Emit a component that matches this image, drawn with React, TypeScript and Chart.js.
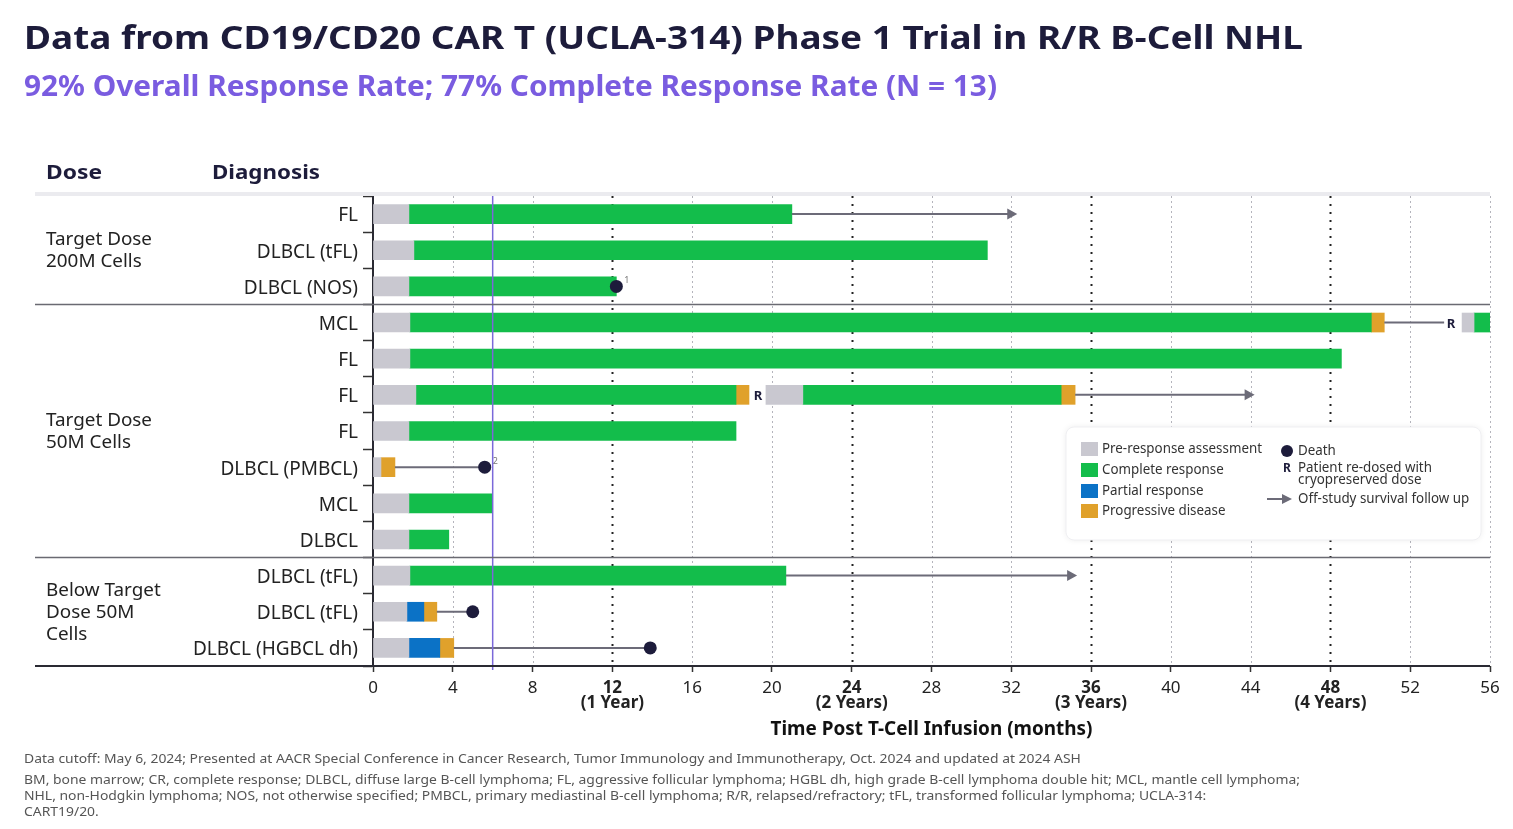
import React, { useEffect, useRef } from 'react';
import { Chart, registerables } from 'chart.js';

Chart.register(...registerables);

const FAMILY = '"Noto Sans", "DejaVu Sans", sans-serif';

// ---------- data ----------
const diagnoses = [
  'FL', 'DLBCL (tFL)', 'DLBCL (NOS)',
  'MCL', 'FL', 'FL', 'FL', 'DLBCL (PMBCL)', 'MCL', 'DLBCL',
  'DLBCL (tFL)', 'DLBCL (tFL)', 'DLBCL (HGBCL dh)',
];

const doseGroups = [
  ['Target Dose', '200M Cells'],
  ['Target Dose', '50M Cells'],
  ['Below Target', 'Dose 50M', 'Cells'],
];
const doseGroupFirstRow = [0, 3, 10];
const doseGroupLastRow = [2, 9, 12];

// first treatment episode (months)
const preResponseEnd = [1.8, 2.05, 1.8, 1.85, 1.85, 2.15, 1.8, 0.4, 1.8, 1.8, 1.85, 1.7, 1.8];
const completeResponseEnd = [21.0, 30.8, 12.2, 50.05, 48.55, 18.2, 18.2, null, 6.0, 3.8, 20.7, null, null];
const partialResponseEnd = [null, null, null, null, null, null, null, null, null, null, null, 2.55, 3.35];
const progressiveEnd = [null, null, null, 50.7, null, 18.85, null, 1.1, null, null, null, 3.2, 4.05];

// re-dose episode (months)
const redoseStart = [null, null, null, 54.6, null, 19.7, null, null, null, null, null, null, null];
const redosePreResponseEnd = [null, null, null, 55.2, null, 21.55, null, null, null, null, null, null, null];
const redoseCompleteEnd = [null, null, null, 56, null, 34.5, null, null, null, null, null, null, null];
const redoseProgressiveEnd = [null, null, null, null, null, 35.2, null, null, null, null, null, null, null];

// follow-up lines, markers
const followUpFrom = [21.0, null, null, 50.7, null, 35.2, null, 1.1, null, null, 20.7, 3.2, 4.05];
const followUpTo = [32.3, null, null, 53.7, null, 44.2, null, 5.6, null, null, 35.3, 5.0, 13.9];
const offStudyArrow = [true, false, false, false, false, true, false, false, false, false, true, false, false];
const deathAt = [null, null, 12.2, null, null, null, null, 5.6, null, null, null, 5.0, 13.9];
const deathNote = ['', '', '1', '', '', '', '', '2', '', '', '', '', ''];
const redoseMarkAt = [null, null, null, 54.05, null, 19.3, null, null, null, null, null, null, null];

const xTicks = [0, 4, 8, 12, 16, 20, 24, 28, 32, 36, 40, 44, 48, 52, 56];
const yearTicks = [12, 24, 36, 48];
const yearLabels = ['(1 Year)', '(2 Years)', '(3 Years)', '(4 Years)'];
const referenceMonth = 6;

const legendItems = ['Pre-response assessment', 'Complete response', 'Partial response', 'Progressive disease'];

const footnotes = [
  'Data cutoff: May 6, 2024; Presented at AACR Special Conference in Cancer Research, Tumor Immunology and Immunotherapy, Oct. 2024 and updated at 2024 ASH',
  'BM, bone marrow; CR, complete response; DLBCL, diffuse large B-cell lymphoma; FL, aggressive follicular lymphoma; HGBL dh, high grade B-cell lymphoma double hit; MCL, mantle cell lymphoma;',
  'NHL, non-Hodgkin lymphoma; NOS, not otherwise specified; PMBCL, primary mediastinal B-cell lymphoma; R/R, relapsed/refractory; tFL, transformed follicular lymphoma; UCLA-314:',
  'CART19/20.',
];

// ---------- colours ----------
const C_PRE = '#c9c8d0';
const C_CR = '#13bd4b';
const C_PR = '#0b72c6';
const C_PD = '#e0a12b';
const C_NAVY = '#1d1c3b';
const C_LINE = '#6c6b78';
const C_PURPLE = '#7b68d9';
const legendColors = [C_PRE, C_CR, C_PR, C_PD];

function measure(text: string, font: string) {
  const c = document.createElement('canvas').getContext('2d')!;
  c.font = font;
  return c.measureText(text).width;
}

function drawText(ctx: CanvasRenderingContext2D, text: string, x: number, y: number, font: string, color: string, sx = 1, align: CanvasTextAlign = 'left') {
  ctx.save();
  ctx.font = font;
  ctx.fillStyle = color;
  ctx.textBaseline = 'alphabetic';
  ctx.textAlign = align;
  ctx.translate(x, y);
  ctx.scale(sx, 1);
  ctx.fillText(text, 0, 0);
  ctx.restore();
}

function fitFactor(ctx: CanvasRenderingContext2D, text: string, font: string, width: number) {
  ctx.save();
  ctx.font = font;
  const w = ctx.measureText(text).width;
  ctx.restore();
  return width / w;
}

export default function App() {
  const ref = useRef<HTMLCanvasElement | null>(null);

  useEffect(() => {
    document.body.style.margin = '0';
    const canvas = ref.current!;
    const yFontSize = Math.min(19, 17 * 166 / measure('DLBCL (HGBCL dh)', `17px ${FAMILY}`));

    const pre1 = preResponseEnd.map((e) => [0, e]);
    const cr1 = completeResponseEnd.map((e, i) => (e == null ? null : [preResponseEnd[i], e]));
    const pr1 = partialResponseEnd.map((e, i) => (e == null ? null : [preResponseEnd[i], e]));
    const pd1 = progressiveEnd.map((e, i) =>
      e == null ? null : [completeResponseEnd[i] ?? partialResponseEnd[i] ?? preResponseEnd[i], e]);
    const pre2 = redosePreResponseEnd.map((e, i) => (e == null ? null : [redoseStart[i], e]));
    const cr2 = redoseCompleteEnd.map((e, i) => (e == null ? null : [redosePreResponseEnd[i], e]));
    const pd2 = redoseProgressiveEnd.map((e, i) => (e == null ? null : [redoseCompleteEnd[i], e]));

    const mk = (label: string, color: string, data: any[]) => ({
      label, data, backgroundColor: color, borderWidth: 0, barThickness: 19, grouped: false,
    });

    const overlay = {
      id: 'overlay',
      beforeDatasetsDraw(chart: any) {
        const { ctx, chartArea } = chart;
        const xs = chart.scales.x;
        ctx.save();
        // header band
        ctx.fillStyle = '#ebebef';
        ctx.fillRect(35, chartArea.top - 4, 1490 - 35, 4);
        // vertical dotted grid
        for (const v of xTicks) {
          if (v === 0) continue;
          const px = Math.round(xs.getPixelForValue(v)) + 0.5;
          ctx.beginPath();
          if (yearTicks.includes(v)) {
            ctx.strokeStyle = '#222';
            ctx.lineWidth = 2;
            ctx.setLineDash([2, 6]);
          } else {
            ctx.strokeStyle = '#b4b4bc';
            ctx.lineWidth = 1;
            ctx.setLineDash([2, 3]);
          }
          ctx.moveTo(px, chartArea.top);
          ctx.lineTo(px, chartArea.bottom);
          ctx.stroke();
        }
        ctx.restore();
      },
      afterDatasetsDraw(chart: any) {
        const { ctx, chartArea } = chart;
        const xs = chart.scales.x;
        const ys = chart.scales.y;
        ctx.save();
        // follow-up lines
        diagnoses.forEach((_, i) => {
          const a = followUpFrom[i];
          const b = followUpTo[i];
          if (a == null || b == null) return;
          const y = ys.getPixelForValue(i);
          const x1 = xs.getPixelForValue(a);
          let x2 = xs.getPixelForValue(b);
          ctx.strokeStyle = C_LINE;
          ctx.lineWidth = 2;
          ctx.beginPath();
          ctx.moveTo(x1, y);
          ctx.lineTo(offStudyArrow[i] ? x2 - 8 : x2, y);
          ctx.stroke();
          if (offStudyArrow[i]) {
            ctx.fillStyle = C_LINE;
            ctx.beginPath();
            ctx.moveTo(x2, y);
            ctx.lineTo(x2 - 10, y - 5.5);
            ctx.lineTo(x2 - 10, y + 5.5);
            ctx.closePath();
            ctx.fill();
          }
        });
        // deaths
        diagnoses.forEach((_, i) => {
          const d = deathAt[i];
          if (d == null) return;
          const y = ys.getPixelForValue(i);
          const x = xs.getPixelForValue(d);
          ctx.fillStyle = C_NAVY;
          ctx.beginPath();
          ctx.arc(x, y, 6.5, 0, Math.PI * 2);
          ctx.fill();
          if (deathNote[i]) drawText(ctx, deathNote[i], x + 8, y - 3, `9px ${FAMILY}`, '#777');
        });
        // re-dose marks
        diagnoses.forEach((_, i) => {
          const r = redoseMarkAt[i];
          if (r == null) return;
          const y = ys.getPixelForValue(i);
          const x = xs.getPixelForValue(r);
          drawText(ctx, 'R', x, y + 5, `bold 13px ${FAMILY}`, C_NAVY, 1, 'center');
        });
        // reference month line
        const px = xs.getPixelForValue(referenceMonth);
        ctx.strokeStyle = C_PURPLE;
        ctx.lineWidth = 1.5;
        ctx.beginPath();
        ctx.moveTo(px, chartArea.top);
        ctx.lineTo(px, chartArea.bottom + 4);
        ctx.stroke();
        // group separators
        ctx.strokeStyle = '#6a6a72';
        ctx.lineWidth = 1.5;
        for (let g = 0; g < doseGroups.length - 1; g++) {
          const yb = (ys.getPixelForValue(doseGroupLastRow[g]) + ys.getPixelForValue(doseGroupFirstRow[g + 1])) / 2;
          ctx.beginPath();
          ctx.moveTo(35, yb);
          ctx.lineTo(1490, yb);
          ctx.stroke();
        }
        // x axis line
        ctx.strokeStyle = '#2a2a33';
        ctx.lineWidth = 2;
        ctx.beginPath();
        ctx.moveTo(35, chartArea.bottom);
        ctx.lineTo(chartArea.right, chartArea.bottom);
        ctx.stroke();
        ctx.restore();
      },
      afterDraw(chart: any) {
        const { ctx, chartArea } = chart;
        const ys = chart.scales.y;
        // titles
        const tFont = `bold 33px ${FAMILY}`;
        const title = 'Data from CD19/CD20 CAR T (UCLA-314) Phase 1 Trial in R/R B-Cell NHL';
        drawText(ctx, title, 24, 49, tFont, C_NAVY, fitFactor(ctx, title, tFont, 1279));
        const sFont = `bold 29px ${FAMILY}`;
        const sub = '92% Overall Response Rate; 77% Complete Response Rate (N = 13)';
        drawText(ctx, sub, 24, 96, sFont, '#7a5ce0', fitFactor(ctx, sub, sFont, 973));
        // headers
        const hFont = `bold 20px ${FAMILY}`;
        drawText(ctx, 'Dose', 46, 179, hFont, C_NAVY, fitFactor(ctx, 'Dose', hFont, 56));
        drawText(ctx, 'Diagnosis', 212, 179, hFont, C_NAVY, fitFactor(ctx, 'Diagnosis', hFont, 108));
        // dose group labels
        const gFont = `18px ${FAMILY}`;
        const gsx = fitFactor(ctx, 'Target Dose', gFont, 106);
        doseGroups.forEach((lines, g) => {
          const center = (ys.getPixelForValue(doseGroupFirstRow[g]) + ys.getPixelForValue(doseGroupLastRow[g])) / 2;
          lines.forEach((ln, k) => {
            const y = center - ((lines.length - 1) * 22) / 2 + k * 22 + 6;
            drawText(ctx, ln, 46, y, gFont, '#222', gsx);
          });
        });
        // x axis title
        const axFont = `bold 19px ${FAMILY}`;
        const axT = 'Time Post T-Cell Infusion (months)';
        drawText(ctx, axT, (chartArea.left + chartArea.right) / 2, 735, axFont, '#111', fitFactor(ctx, axT, axFont, 322), 'center');
        // legend
        ctx.save();
        ctx.shadowColor = 'rgba(0,0,0,0.08)';
        ctx.shadowBlur = 6;
        ctx.fillStyle = '#fff';
        ctx.beginPath();
        (ctx as any).roundRect(1066, 427, 415, 113, 8);
        ctx.fill();
        ctx.restore();
        ctx.save();
        ctx.strokeStyle = '#efeff2';
        ctx.lineWidth = 1;
        ctx.beginPath();
        (ctx as any).roundRect(1066, 427, 415, 113, 8);
        ctx.stroke();
        ctx.restore();
        const lFont = `14px ${FAMILY}`;
        const lsx = fitFactor(ctx, 'Pre-response assessment', lFont, 160);
        const rowBase = [453, 474, 495, 515];
        legendItems.forEach((t, k) => {
          ctx.fillStyle = legendColors[k];
          ctx.fillRect(1081, rowBase[k] - 11, 17, 14);
          drawText(ctx, t, 1102, rowBase[k], lFont, '#333', lsx);
        });
        ctx.fillStyle = C_NAVY;
        ctx.beginPath();
        ctx.arc(1287, 451, 6, 0, Math.PI * 2);
        ctx.fill();
        drawText(ctx, 'Death', 1298, 455, lFont, '#333', lsx);
        drawText(ctx, 'R', 1287, 472, `bold 12px ${FAMILY}`, C_NAVY, 1, 'center');
        drawText(ctx, 'Patient re-dosed with', 1298, 472, lFont, '#333', lsx);
        drawText(ctx, 'cryopreserved dose', 1298, 484, lFont, '#333', lsx);
        ctx.strokeStyle = C_LINE;
        ctx.lineWidth = 2;
        ctx.beginPath();
        ctx.moveTo(1267, 499);
        ctx.lineTo(1283, 499);
        ctx.stroke();
        ctx.fillStyle = C_LINE;
        ctx.beginPath();
        ctx.moveTo(1292, 499);
        ctx.lineTo(1282, 494);
        ctx.lineTo(1282, 504);
        ctx.closePath();
        ctx.fill();
        drawText(ctx, 'Off-study survival follow up', 1298, 503, lFont, '#333', lsx);
        // footnotes
        const fFont = `13px ${FAMILY}`;
        const fsx = fitFactor(ctx, footnotes[1], fFont, 1276);
        const fy = [763, 784, 800, 816];
        footnotes.forEach((t, k) => drawText(ctx, t, 24, fy[k], fFont, '#555', fsx));
      },
    };

    const chart = new Chart(canvas, {
      type: 'bar',
      data: {
        labels: diagnoses,
        datasets: [
          mk('Pre-response assessment', C_PRE, pre1),
          mk('Complete response', C_CR, cr1),
          mk('Partial response', C_PR, pr1),
          mk('Progressive disease', C_PD, pd1),
          mk('Pre-response assessment (re-dose)', C_PRE, pre2),
          mk('Complete response (re-dose)', C_CR, cr2),
          mk('Progressive disease (re-dose)', C_PD, pd2),
        ] as any,
      },
      options: {
        indexAxis: 'y',
        responsive: false,
        animation: false,
        devicePixelRatio: 1,
        layout: { padding: { top: 196, right: 23, bottom: 113, left: 0 } },
        plugins: { legend: { display: false }, tooltip: { enabled: false }, title: { display: false } },
        scales: {
          x: {
            type: 'linear',
            min: 0,
            max: 56,
            afterBuildTicks: (s: any) => { s.ticks = xTicks.map((v) => ({ value: v })); },
            afterFit: (s: any) => { s.height = 50; },
            border: { display: false },
            grid: { display: true, drawOnChartArea: false, drawTicks: true, tickLength: 6, tickColor: '#333', tickWidth: 1.5 },
            ticks: {
              autoSkip: false,
              maxRotation: 0,
              padding: 8,
              color: '#222',
              font: (c: any) => ({
                family: FAMILY,
                size: 17,
                lineHeight: 0.92,
                weight: c.tick && yearTicks.includes(c.tick.value) ? 'bold' : 'normal',
              }),
              callback: (v: any) => {
                const k = yearTicks.indexOf(Number(v));
                return k >= 0 ? [String(v), yearLabels[k]] : String(v);
              },
            },
          },
          y: {
            type: 'category',
            offset: true,
            afterFit: (s: any) => { s.width = 373; },
            border: { display: true, color: '#2a2a33', width: 2 },
            grid: { display: true, drawOnChartArea: false, drawTicks: true, tickLength: 10, tickColor: '#333', tickWidth: 1.5 },
            ticks: { autoSkip: false, padding: 5, labelOffset: 2, color: '#222', font: { family: FAMILY, size: yFontSize } },
          },
        },
      } as any,
      plugins: [overlay],
    });
    return () => chart.destroy();
  }, []);

  return <canvas ref={ref} width={1513} height={829} style={{ display: 'block', width: 1513, height: 829 }} />;
}
